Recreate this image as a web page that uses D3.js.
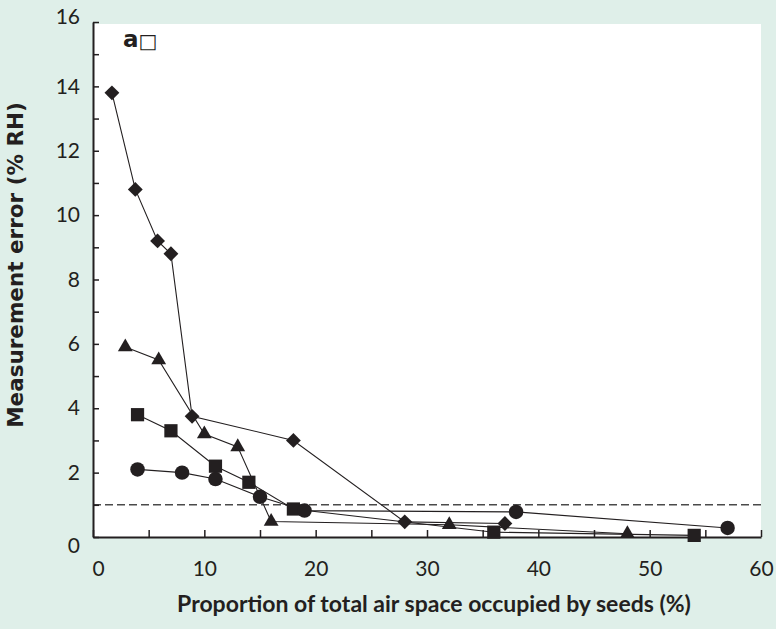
<!doctype html>
<html>
<head>
<style>
    body { margin: 0; background: #dfefe9; }
    svg { display: block; }
    .tick text { font-family: Lato, "Open Sans", sans-serif; font-size: 21px; fill: #231f20; }
    .axis path, .axis line { stroke: #231f20; }
    .title { font-weight: bold; fill: #231f20; }
</style>
<script src="https://d3js.org/d3.v7.min.js"></script>
</head>
<body>
<svg width="776" height="629"></svg>
<script>

// data (x = % of air space occupied, y = error % RH)
var diamondX = [1.7, 3.8, 5.8, 7.0, 8.9, 18, 28, 37]
var diamondY = [13.8, 10.8, 9.2, 8.8, 3.75, 3.0, 0.47, 0.42]

var triangleX = [2.9, 5.9, 10, 13, 16, 32, 48]
var triangleY = [5.9, 5.5, 3.2, 2.8, 0.48, 0.38, 0.1]

var squareX = [4.0, 7.0, 11, 14, 18, 36, 54]
var squareY = [3.8, 3.3, 2.2, 1.7, 0.87, 0.15, 0.05]

var circleX = [4.0, 8.0, 11, 15, 19, 38, 57]
var circleY = [2.1, 2.0, 1.8, 1.25, 0.82, 0.78, 0.28]

var xTicks = [0, 10, 20, 30, 40, 50, 60]
var yTicks = [0, 2, 4, 6, 8, 10, 12, 14, 16]
var threshold = 1

var svg = d3.select("svg")
var mLeft = 93, mRight = 761, mTop = 22, mBottom = 537

var x = d3.scaleLinear().domain([0, 60]).range([mLeft, mRight])
var y = d3.scaleLinear().domain([0, 16]).range([mBottom, mTop])

// white plot panel
svg.append("rect")
   .attr("x", mLeft).attr("y", 24)
   .attr("width", mRight - mLeft).attr("height", mBottom - 24)
   .attr("fill", "#fff")

// dashed 1% line
svg.append("line")
   .attr("x1", x(0)).attr("x2", x(60))
   .attr("y1", y(threshold)).attr("y2", y(threshold))
   .attr("stroke", "#4a4a4a").attr("stroke-width", 1.4)
   .attr("stroke-dasharray", "8,4")

// axes, ticks pointing inward
var xMinor = svg.append("g").attr("class", "axis")
   .attr("transform", "translate(0," + mBottom + ")")
   .call(d3.axisBottom(x).tickValues(d3.range(0, 61, 5)).tickSize(-7).tickSizeOuter(0).tickFormat(""))
xMinor.select(".domain").attr("stroke-width", 2)
xMinor.selectAll(".tick line").attr("stroke-width", 1.5)

var xAxis = svg.append("g").attr("class", "axis")
   .attr("transform", "translate(0," + mBottom + ")")
   .call(d3.axisBottom(x).tickValues(xTicks).tickSize(0).tickPadding(24))
xAxis.select(".domain").remove()
xAxis.selectAll(".tick text").filter(function(d){ return d == 0 }).attr("dx", 5)

var yMinor = svg.append("g").attr("class", "axis")
   .attr("transform", "translate(" + mLeft + ",0)")
   .call(d3.axisLeft(y).tickValues(d3.range(0, 17, 1)).tickSize(-6).tickSizeOuter(0).tickFormat(""))
yMinor.select(".domain").attr("stroke-width", 2)
yMinor.selectAll(".tick line").attr("stroke-width", 1.5)

var yAxis = svg.append("g").attr("class", "axis")
   .attr("transform", "translate(" + mLeft + ",0)")
   .call(d3.axisLeft(y).tickValues(yTicks).tickSize(0).tickPadding(13))
yAxis.select(".domain").remove()
yAxis.selectAll(".tick text").filter(function(d){ return d == 0 }).attr("dy", "0.72em")
yAxis.selectAll(".tick text").filter(function(d){ return d == 16 }).attr("dy", "0.06em")

// rotated square for the diamond marker
var diamond = {
    draw: function(ctx, size) {
        var r = Math.sqrt(size / 2)
        ctx.moveTo(0, -r); ctx.lineTo(r, 0); ctx.lineTo(0, r); ctx.lineTo(-r, 0); ctx.closePath()
    }
}

var series = [
    {xs: diamondX, ys: diamondY, sym: diamond, size: 110},
    {xs: triangleX, ys: triangleY, sym: d3.symbolTriangle, size: 95},
    {xs: squareX, ys: squareY, sym: d3.symbolSquare, size: 175},
    {xs: circleX, ys: circleY, sym: d3.symbolCircle, size: 165}
]

var line = d3.line().x(function(d){ return x(d[0]) }).y(function(d){ return y(d[1]) })

series.forEach(function(s) {
    var pts = s.xs.map(function(v, i){ return [v, s.ys[i]] })
    svg.append("path").datum(pts)
       .attr("d", line)
       .attr("fill", "none").attr("stroke", "#231f20").attr("stroke-width", 1.1)
})

series.forEach(function(s) {
    var pts = s.xs.map(function(v, i){ return [v, s.ys[i]] })
    svg.selectAll(null).data(pts).enter().append("path")
       .attr("transform", function(d){ return "translate(" + x(d[0]) + "," + y(d[1]) + ")" })
       .attr("d", d3.symbol().type(s.sym).size(s.size))
       .attr("fill", "#231f20")
})

// panel letter
var lab = svg.append("text").attr("x", 123).attr("y", 47)
   .style("font-family", "DejaVu Sans").style("font-weight", "bold").style("font-size", "23px").attr("fill", "#231f20")
lab.append("tspan").text("a")
lab.append("tspan").text("\u25A1").style("font-weight", "normal").style("font-size", "20px").attr("dy", 1)

// axis titles
svg.append("text").attr("class", "title")
   .attr("x", 434).attr("y", 612)
   .attr("text-anchor", "middle")
   .style("font-family", "Lato, sans-serif").style("font-size", "23px")
   .text("Proportion of total air space occupied by seeds (%)")

svg.append("text").attr("class", "title")
   .attr("transform", "translate(23,265) rotate(-90)")
   .attr("text-anchor", "middle")
   .style("font-family", "DejaVu Sans").style("font-size", "21.5px")
   .text("Measurement error (% RH)")

</script>
</body>
</html>
